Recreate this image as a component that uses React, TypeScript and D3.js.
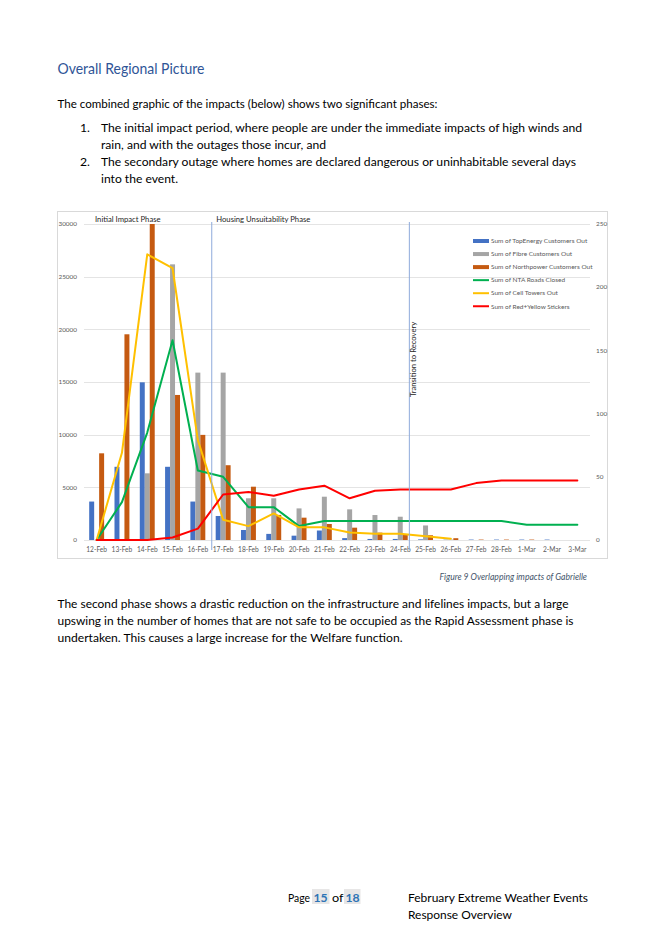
import React from "react";
import * as d3 from "d3";

// chart data
const categories = [
  "12-Feb", "13-Feb", "14-Feb", "15-Feb", "16-Feb", "17-Feb", "18-Feb",
  "19-Feb", "20-Feb", "21-Feb", "22-Feb", "23-Feb", "24-Feb", "25-Feb",
  "26-Feb", "27-Feb", "28-Feb", "1-Mar", "2-Mar", "3-Mar",
];

const topEnergyOut = [3650, 6950, 14970, 6950, 3650, 2280, 950, 580, 410, 900, 180, 100, 100, 60, 30, 40, 40, 40, 40, 0];
const fibreOut = [0, 0, 6330, 26170, 15890, 15890, 3960, 3960, 3000, 4110, 2910, 2370, 2210, 1380, 40, 0, 0, 0, 0, 0];
const northpowerOut = [8230, 19530, 30000, 13770, 9980, 7100, 5060, 2380, 2120, 1520, 1170, 700, 470, 450, 170, 40, 40, 40, 0, 0];

const ntaRoadsClosed = [0, 30, 85, 158, 55, 50, 26, 26, 11, 15, 15, 15, 15, 15, 15, 15, 15, 12, 12, 12];
const cellTowersOut = [0, 69, 226, 215, 79, 16, 11, 21, 10, 10, 6, 5, 5, 3, 1, null, null, null, null, null];
const redYellowStickers = [0, 0, 0, 2, 9, 36, 38, 35, 40, 43, 33, 39, 40, 40, 40, 45, 47, 47, 47, 47];

const leftTicks = [0, 5000, 10000, 15000, 20000, 25000, 30000];
const rightTicks = [0, 50, 100, 150, 200, 250];

const barSeries = [
  { name: "Sum of TopEnergy Customers Out", values: topEnergyOut, color: "#4472C4" },
  { name: "Sum of Fibre Customers Out", values: fibreOut, color: "#A5A5A5" },
  { name: "Sum of Northpower Customers Out", values: northpowerOut, color: "#C55A11" },
];
const lineSeries = [
  { name: "Sum of NTA Roads Closed", values: ntaRoadsClosed, color: "#00B050" },
  { name: "Sum of Cell Towers Out", values: cellTowersOut, color: "#FFC000" },
  { name: "Sum of Red+Yellow Stickers", values: redYellowStickers, color: "#FF0000" },
];

// phase dividers: after which category, and how far into the next gap
const phaseDividers = [
  { after: "16-Feb", offset: 0.55, label: "Housing Unsuitability Phase" },
  { after: "24-Feb", offset: 0.36, label: "Transition to Recovery" },
];

const FONT = "Lato, 'Open Sans', sans-serif";

const Chart: React.FC = () => {
  const x = d3.scaleBand<string>().domain(categories).range([84, 590]);
  const bw = x.bandwidth();
  const sub = d3
    .scaleBand<number>()
    .domain([0, 1, 2])
    .range([bw * 0.205, bw * 0.795]);
  const yL = d3.scaleLinear().domain([0, 30000]).range([540, 224]);
  const yR = d3.scaleLinear().domain([0, 250]).range([540, 224]);
  const cx = (c: string) => (x(c) ?? 0) + bw / 2;

  const line = d3
    .line<number | null>()
    .defined((d) => d != null)
    .x((_, i) => cx(categories[i]))
    .y((d) => yR(d as number));

  const legendY = (i: number) => 241 + i * 13.05;
  const legendItems = [...barSeries.map((s) => ({ ...s, bar: true })), ...lineSeries.map((s) => ({ ...s, bar: false }))];

  return (
    <g fontFamily={FONT}>
      <rect x={57.5} y={211.5} width={550} height={347} fill="#fff" stroke="#D9D9D9" />

      {leftTicks.map((t) => (
        <line key={t} x1={84} x2={590} y1={Math.round(yL(t)) + 0.5} y2={Math.round(yL(t)) + 0.5} stroke="#E4E4E4" />
      ))}
      {leftTicks.map((t) => (
        <text key={t} x={77} y={yL(t)} dy="0.35em" textAnchor="end" fontSize={6.4} fill="#595959">
          {t}
        </text>
      ))}
      {rightTicks.map((t) => (
        <text key={t} x={596} y={yR(t)} dy="0.35em" fontSize={6.4} fill="#595959">
          {t}
        </text>
      ))}
      {categories.map((c) => (
        <text key={c} x={cx(c)} y={551.5} textAnchor="middle" fontSize={6.6} fill="#595959">
          {c}
        </text>
      ))}

      {barSeries.map((s, si) =>
        s.values.map((v, i) =>
          v > 0 ? (
            <rect
              key={`${si}-${i}`}
              x={(x(categories[i]) ?? 0) + (sub(si) ?? 0)}
              width={sub.bandwidth()}
              y={yL(v)}
              height={yL(0) - yL(v)}
              fill={s.color}
            />
          ) : null
        )
      )}

      {lineSeries.map((s) => (
        <path
          key={s.name}
          d={line(s.values) ?? ""}
          fill="none"
          stroke={s.color}
          strokeWidth={2}
          strokeLinejoin="round"
          strokeLinecap="round"
        />
      ))}

      {/* phase markers */}
      <text x={(x(categories[0]) ?? 0) + 11} y={221.5} fontSize={7.7} fill="#262626">
        Initial Impact Phase
      </text>
      {phaseDividers.map((p, i) => {
        const px = cx(p.after) + bw * p.offset;
        return (
          <g key={p.label}>
            <line x1={px} x2={px} y1={222} y2={550} stroke="#8EAADB" strokeWidth={1} />
            {i === 0 ? (
              <text x={px + 4.5} y={221.5} fontSize={7.7} fill="#262626">
                {p.label}
              </text>
            ) : (
              <text transform={`translate(${px + 7},397) rotate(-90)`} fontSize={7.7} fill="#262626">
                {p.label}
              </text>
            )}
          </g>
        );
      })}

      {legendItems.map((s, i) =>
        <g key={s.name}>
          {s.bar ? (
            <rect x={473} y={legendY(i) - 2} width={16} height={4} fill={s.color} />
          ) : (
            <line x1={473} x2={489} y1={legendY(i)} y2={legendY(i)} stroke={s.color} strokeWidth={2} />
          )}
          <text x={491} y={legendY(i)} dy="0.35em" fontSize={6.5} fill="#595959">
            {s.name}
          </text>
        </g>
      )}
    </g>
  );
};

const Body: React.FC<{ x: number; y: number; w: number; children: string }> = ({ x, y, w, children }) => (
  <text x={x} y={y} textLength={w} lengthAdjust="spacingAndGlyphs" fontSize={12.2} fill="#000">
    {children}
  </text>
);

export default function App() {
  return (
    <div style={{ position: "absolute", left: 0, top: 0 }}>
      <svg width={645} height={935} style={{ display: "block", background: "#fff" }}>
        <g fontFamily={FONT}>
          <text x={57.5} y={74} textLength={147} lengthAdjust="spacingAndGlyphs" fontSize={16} fill="#2F5597">
            Overall Regional Picture
          </text>
          <Body x={57.5} y={107.5} w={380}>The combined graphic of the impacts (below) shows two significant phases:</Body>
          <text x={80} y={131.5} fontSize={12.2}>1.</text>
          <Body x={101} y={131.5} w={481}>The initial impact period, where people are under the immediate impacts of high winds and</Body>
          <Body x={101} y={148.5} w={225}>rain, and with the outages those incur, and</Body>
          <text x={80} y={165.5} fontSize={12.2}>2.</text>
          <Body x={101} y={165.5} w={475}>The secondary outage where homes are declared dangerous or uninhabitable several days</Body>
          <Body x={101} y={182.5} w={77}>into the event.</Body>

          <text x={587} y={580} textAnchor="end" fontSize={8.6} fontStyle="italic" fill="#44546A">
            Figure 9 Overlapping impacts of Gabrielle
          </text>
          <Body x={57.5} y={608} w={511}>The second phase shows a drastic reduction on the infrastructure and lifelines impacts, but a large</Body>
          <Body x={57.5} y={625} w={516}>upswing in the number of homes that are not safe to be occupied as the Rapid Assessment phase is</Body>
          <Body x={57.5} y={642} w={345}>undertaken. This causes a large increase for the Welfare function.</Body>

          <rect x={312} y={889} width={17.5} height={15} fill="#E7E6E6" />
          <rect x={344} y={889} width={16.5} height={15} fill="#E7E6E6" />
          <Body x={288} y={901.5} w={22}>Page</Body>
          <text x={313.5} y={901.5} fontSize={12.2} fontWeight="bold" fill="#2E74B5">15</text>
          <Body x={332} y={901.5} w={11.5}>of</Body>
          <text x={345.5} y={901.5} fontSize={12.2} fontWeight="bold" fill="#2E74B5">18</text>
          <Body x={408} y={901.5} w={180}>February Extreme Weather Events</Body>
          <Body x={408} y={918.5} w={104}>Response Overview</Body>
        </g>
        <Chart />
      </svg>
    </div>
  );
}
